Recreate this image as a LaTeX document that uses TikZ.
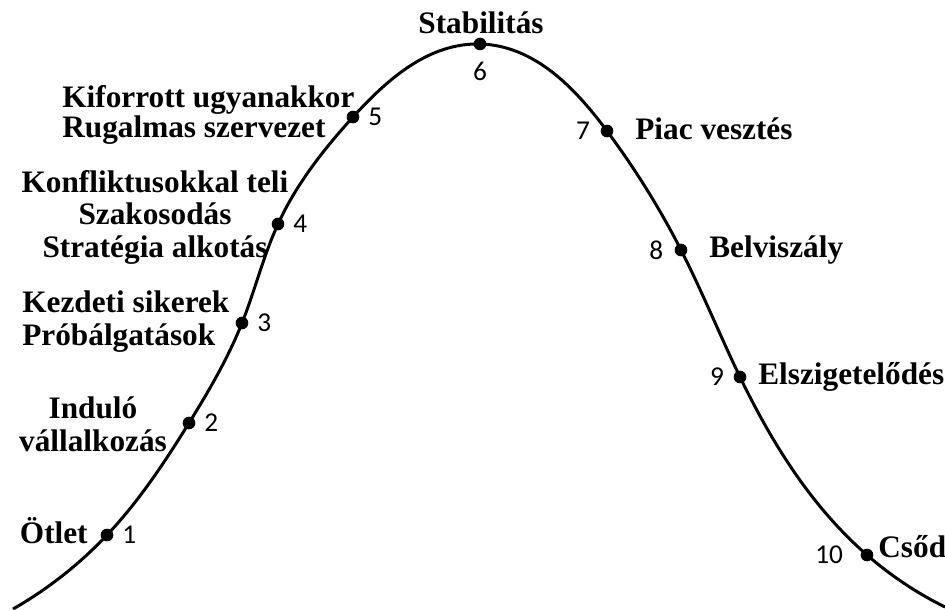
\documentclass[tikz,border=0pt]{standalone}
\usepackage{fontspec}
\setmainfont{Liberation Serif}
\newfontfamily\numfont{Carlito}
\usetikzlibrary{positioning,hobby}

\tikzset{
  curve/.style={line width=1.7pt},
  dot/.style={fill=black},
  lbl/.style={font=\fontsize{17.8}{18.7}\selectfont\bfseries, inner sep=0pt},
  num/.style={font=\numfont\fontsize{15.5}{18}\selectfont, inner sep=0pt},
}

\begin{document}
\begin{tikzpicture}[x=0.02cm, y=-0.02cm]
  \useasboundingbox (0,0) rectangle (945,609);

  \coordinate (start) at (13,609);
  \coordinate (p1) at (107,535);
  \coordinate (p2) at (189,423);
  \coordinate (p3) at (242,323);
  \coordinate (p4) at (278,224);
  \coordinate (p5) at (353,117);
  \coordinate (p6) at (480,44);
  \coordinate (p7) at (607,131);
  \coordinate (p8) at (681,250);
  \coordinate (p9) at (740,377);
  \coordinate (p10) at (867,555);
  \coordinate (end) at (945,607);

  \draw[curve, use Hobby shortcut] (start) .. (p1) .. (p2) .. (p3) .. (p4)
    .. (p5) .. (p6) .. (p7) .. (p8) .. (p9) .. (p10) .. (end);
  \foreach \i in {1,...,10}
    \fill[dot] (p\i) circle (3.6pt);

  \node[num, right=8.5pt of p1] (n1) {1};
  \node[num, right=8.5pt of p2] (n2) {2};
  \node[num, right=8.5pt of p3] (n3) {3};
  \node[num, right=8.5pt of p4] (n4) {4};
  \node[num, right=8.5pt of p5] (n5) {5};
  \node[num, below=10pt of p6] (n6) {6};
  \node[num, left=9.5pt of p7] (n7) {7};
  \node[num, left=10pt of p8] (n8) {8};
  \node[num, left=9pt of p9] (n9) {9};
  \node[num, left=13.5pt of p10] (n10) {10};

  \node[lbl, anchor=base east] (otlet) at (88,543) {Ötlet};
  \node[lbl, align=center, anchor=base] (indulo) at (93,451)
    {Induló\\vállalkozás};
  \node[lbl, align=left, anchor=base west] (kezdeti) at (22,345)
    {Kezdeti sikerek\\Próbálgatások};
  \node[lbl, font=\fontsize{17.8}{18.4}\selectfont\bfseries, align=center,
    anchor=base] (konfliktus) at (155,257)
    {Konfliktusokkal teli\\Szakosodás\\Stratégia alkotás};
  \node[lbl, font=\fontsize{17.8}{17}\selectfont\bfseries, align=left,
    anchor=base west] (kiforrott) at (62,137)
    {Kiforrott ugyanakkor\\Rugalmas szervezet};
  \node[lbl, anchor=base] (stabil) at (481,33) {Stabilitás};
  \node[lbl, anchor=base west] (piac) at (635,139) {Piac vesztés};
  \node[lbl, anchor=base west] (belviszaly) at (709,257) {Belviszály};
  \node[lbl, anchor=base west] (elszig) at (758,384) {Elszigetelődés};
  \node[lbl, anchor=base west] (csod) at (878,557) {Csőd};
\end{tikzpicture}
\end{document}
